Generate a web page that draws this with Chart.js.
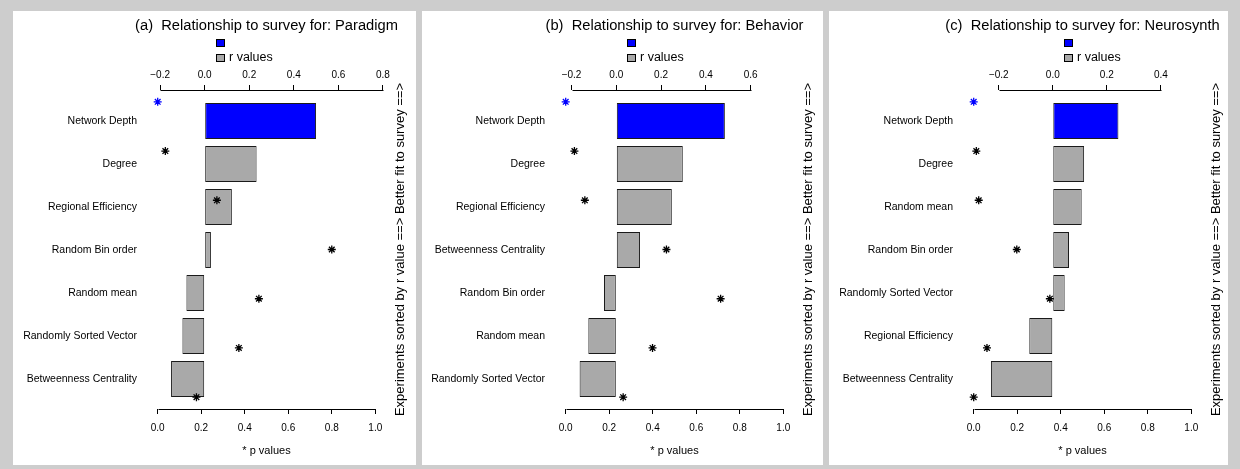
<!DOCTYPE html>
<html>
<head>
<meta charset="utf-8">
<script src="https://cdn.jsdelivr.net/npm/chart.js@4.4.1/dist/chart.umd.min.js"></script>
<style>
  html, body { margin: 0; padding: 0; background: #cdcdcd; }
  body { width: 1240px; height: 469px; position: relative; overflow: hidden; }
  .panel { position: absolute; top: 11px; height: 454px; background: #fff; }
  .panel canvas { display: block; }
</style>
</head>
<body>
<div class="panel" style="left:13px;width:403px"><canvas id="chartParadigm" width="403" height="454"></canvas></div>
<div class="panel" style="left:422px;width:401px"><canvas id="chartBehavior" width="401" height="454"></canvas></div>
<div class="panel" style="left:829px;width:399px"><canvas id="chartNeurosynth" width="399" height="454"></canvas></div>
<script>
// ---- data: experiments sorted by r value, with r (bars) and p (asterisks) ----
const paradigmNames = ['Network Depth', 'Degree', 'Regional Efficiency', 'Random Bin order',
  'Random mean', 'Randomly Sorted Vector', 'Betweenness Centrality'];
const paradigmR = [0.50, 0.233, 0.122, 0.028, -0.082, -0.100, -0.151];
const paradigmP = [0.00, 0.035, 0.272, 0.800, 0.465, 0.373, 0.178];

const behaviorNames = ['Network Depth', 'Degree', 'Regional Efficiency', 'Betweenness Centrality',
  'Random Bin order', 'Random mean', 'Randomly Sorted Vector'];
const behaviorR = [0.485, 0.297, 0.248, 0.106, -0.055, -0.125, -0.164];
const behaviorP = [0.00, 0.040, 0.088, 0.463, 0.712, 0.399, 0.264];

const neurosynthNames = ['Network Depth', 'Degree', 'Random mean', 'Random Bin order',
  'Randomly Sorted Vector', 'Regional Efficiency', 'Betweenness Centrality'];
const neurosynthR = [0.243, 0.116, 0.107, 0.060, 0.044, -0.087, -0.229];
const neurosynthP = [0.00, 0.012, 0.023, 0.198, 0.350, 0.061, 0.00];

// ---- tick labels ----
const rTicksParadigm = [-0.2, 0.0, 0.2, 0.4, 0.6, 0.8];
const rTicksBehavior = [-0.2, 0.0, 0.2, 0.4, 0.6];
const rTicksNeurosynth = [-0.2, 0.0, 0.2, 0.4];
const pTicks = [0.0, 0.2, 0.4, 0.6, 0.8, 1.0];

const FONT = '"Liberation Sans", Arial, Helvetica, sans-serif';
const fmtTick = v => (v < 0 ? '\u2212' : '') + Math.abs(v).toFixed(1);

// R-style frame: title, legend, axis base lines, side caption and p-axis title
const decorPlugin = {
  id: 'decor',
  afterDraw(chart, args, opts) {
    const ctx = chart.ctx;
    const area = chart.chartArea;
    const xr = chart.scales.xr, xp = chart.scales.xp;
    const pMid = (xp.getPixelForValue(0) + xp.getPixelForValue(1)) / 2;
    ctx.save();
    ctx.fillStyle = '#000';
    ctx.strokeStyle = '#000';
    ctx.lineWidth = 1;

    // axis base lines spanning the first to the last tick
    const baseLine = (scale, y) => {
      const t = scale.ticks;
      const x0 = Math.round(scale.getPixelForValue(t[0].value)) + 0.5;
      const x1 = Math.round(scale.getPixelForValue(t[t.length - 1].value)) + 0.5;
      ctx.beginPath();
      ctx.moveTo(x0, Math.round(y) + 0.5);
      ctx.lineTo(x1, Math.round(y) + 0.5);
      ctx.stroke();
    };
    baseLine(xr, area.top);
    baseLine(xp, area.bottom);

    // title
    ctx.font = '14.7px ' + FONT;
    ctx.textAlign = 'center';
    ctx.textBaseline = 'alphabetic';
    ctx.fillText(opts.title, pMid, 19);

    // legend
    const lx = Math.round(xr.getPixelForValue(0) + 11);
    ctx.fillStyle = '#0000ff';
    ctx.fillRect(lx + 0.5, 28.5, 8, 7);
    ctx.strokeRect(lx + 0.5, 28.5, 8, 7);
    ctx.fillStyle = '#a9a9a9';
    ctx.fillRect(lx + 0.5, 43.5, 8, 7);
    ctx.strokeRect(lx + 0.5, 43.5, 8, 7);
    ctx.fillStyle = '#000';
    ctx.font = '12.5px ' + FONT;
    ctx.textAlign = 'left';
    ctx.textBaseline = 'middle';
    ctx.fillText('r values', lx + 13, 47);

    // p-axis title
    ctx.font = '11px ' + FONT;
    ctx.textAlign = 'center';
    ctx.fillText('* p values', pMid, area.bottom + 42);

    // side caption
    ctx.translate(area.right + 16, (area.top + area.bottom) / 2);
    ctx.rotate(-Math.PI / 2);
    ctx.font = '13px ' + FONT;
    ctx.textAlign = 'center';
    ctx.textBaseline = 'middle';
    ctx.fillText('Experiments sorted by r value ==> Better fit to survey ==>', 0, 0);
    ctx.restore();
  }
};

function makePanel(canvasId, spec) {
  const canvas = document.getElementById(canvasId);
  const W = canvas.width, H = canvas.height;
  const PLOT_TOP = 79, PLOT_BOTTOM = 398;
  const rows = spec.names.map((_, i) => i);
  const tickFont = { family: FONT, size: 10 };
  const xGrid = { display: true, drawOnChartArea: false, drawTicks: true, tickLength: 5, color: '#000', lineWidth: 1 };
  const noGrid = { display: false, drawTicks: false, offset: false };

  return new Chart(canvas, {
    type: 'bar',
    data: {
      datasets: [
        {
          type: 'bar',
          order: 1,
          indexAxis: 'y',
          xAxisID: 'xr',
          yAxisID: 'yr',
          data: spec.r.map((v, i) => ({ x: v, y: i })),
          backgroundColor: spec.r.map((_, i) => (i === 0 ? '#0000ff' : '#a9a9a9')),
          borderColor: '#1a1a1a',
          borderWidth: 1,
          borderSkipped: false,
          grouped: false,
          categoryPercentage: 1,
          barPercentage: 0.835
        },
        {
          type: 'scatter',
          order: 0,
          indexAxis: 'x',
          xAxisID: 'xp',
          yAxisID: 'yp',
          data: spec.p.map((v, i) => ({ x: v, y: i + 1 })),
          pointStyle: 'star',
          pointRadius: 4,
          borderWidth: 1.3,
          borderColor: spec.p.map((_, i) => (i === 0 ? '#0000ff' : '#000')),
          backgroundColor: 'transparent'
        }
      ]
    },
    options: {
      responsive: false,
      animation: false,
      indexAxis: 'y',
      layout: { padding: 0 },
      events: [],
      plugins: {
        legend: { display: false },
        tooltip: { enabled: false },
        title: { display: false },
        decor: { title: spec.title }
      },
      scales: {
        xr: {
          type: 'linear', axis: 'x', position: 'top', offset: false,
          min: spec.rMin, max: spec.rMax,
          afterBuildTicks: s => { s.ticks = spec.rTicks.map(v => ({ value: v })); },
          afterFit: s => { s.height = PLOT_TOP; },
          grid: xGrid,
          border: { display: false },
          ticks: { font: tickFont, color: '#000', padding: 4, maxRotation: 0, autoSkip: false, callback: fmtTick }
        },
        xp: {
          type: 'linear', axis: 'x', position: 'bottom', offset: false,
          min: -0.04, max: 1.04,
          afterBuildTicks: s => { s.ticks = pTicks.map(v => ({ value: v })); },
          afterFit: s => { s.height = H - PLOT_BOTTOM; },
          grid: xGrid,
          border: { display: false },
          ticks: { font: tickFont, color: '#000', padding: 8, maxRotation: 0, autoSkip: false, callback: fmtTick }
        },
        yr: {
          type: 'linear', axis: 'y', position: 'left', reverse: true, offset: false,
          min: -0.721, max: 6.698,
          afterBuildTicks: s => { s.ticks = rows.map(v => ({ value: v })); },
          afterFit: s => { s.width = spec.left; },
          grid: noGrid,
          border: { display: false },
          ticks: { font: { family: FONT, size: 10.5 }, color: '#000', padding: 12, autoSkip: false,
                   callback: v => spec.names[v] }
        },
        yp: {
          type: 'linear', axis: 'y', position: 'right', reverse: true, offset: false,
          min: 0.76, max: 7.24,
          afterFit: s => { s.width = W - spec.right; },
          grid: noGrid,
          border: { display: false },
          ticks: { display: false }
        }
      }
    },
    plugins: [decorPlugin]
  });
}

makePanel('chartParadigm', {
  title: '(a)  Relationship to survey for: Paradigm',
  names: paradigmNames, r: paradigmR, p: paradigmP,
  rTicks: rTicksParadigm, rMin: -0.25, rMax: 0.805,
  left: 136, right: 371
});
makePanel('chartBehavior', {
  title: '(b)  Relationship to survey for: Behavior',
  names: behaviorNames, r: behaviorR, p: behaviorP,
  rTicks: rTicksBehavior, rMin: -0.265, rMax: 0.785,
  left: 135, right: 370
});
makePanel('chartNeurosynth', {
  title: '(c)  Relationship to survey for: Neurosynth',
  names: neurosynthNames, r: neurosynthR, p: neurosynthP,
  rTicks: rTicksNeurosynth, rMin: -0.325, rMax: 0.545,
  left: 136, right: 371
});
</script>
</body>
</html>
